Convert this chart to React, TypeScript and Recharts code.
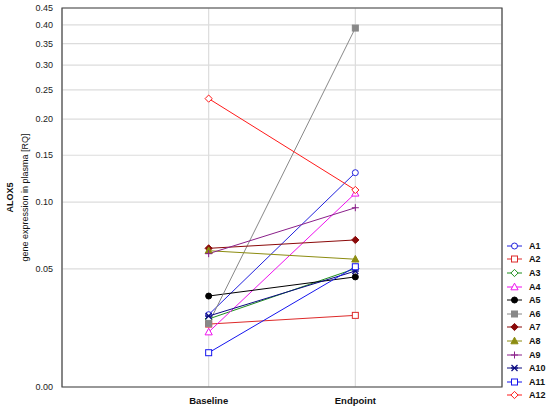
import React from 'react';
import { LineChart, Line, XAxis, YAxis, CartesianGrid, ReferenceArea } from 'recharts';

const categories = ['Baseline', 'Endpoint'];
const seriesNames = ['A1', 'A2', 'A3', 'A4', 'A5', 'A6', 'A7', 'A8', 'A9', 'A10', 'A11', 'A12'];
const baselineValues = [0.0261, 0.022, 0.0242, 0.0187, 0.035, 0.0223, 0.0632, 0.0616, 0.0596, 0.0255, 0.0109, 0.234];
const endpointValues = [0.1296, 0.0258, 0.0502, 0.1083, 0.0453, 0.391, 0.0691, 0.056, 0.0949, 0.0487, 0.0513, 0.1115];
const yTickValues = [0, 0.05, 0.1, 0.15, 0.2, 0.25, 0.3, 0.35, 0.4, 0.45];

const seriesColors = ['#2222dd', '#dd2a2a', '#1f8f1f', '#ee11ee', '#000000', '#888888', '#8b0a0a', '#8c8c10', '#8a208a', '#0a0a80', '#1515ee', '#ff1a1a'];
const seriesMarkers = ['circleOpen', 'squareOpen', 'diamondOpen', 'triangleOpen', 'circle', 'square', 'diamond', 'triangle', 'plus', 'star', 'squareOpen', 'diamondOpen'];

// the value axis is log(v + c), like the original plot
const OFFSET = 0.045;
const toAxis = (v: number) => Math.log(v + OFFSET);
const fromAxis = (t: number) => Math.exp(t) - OFFSET;

const FONT = '"Liberation Sans", Arial, sans-serif';

const data = categories.map((name, i) => {
  const row: Record<string, number | string> = { name, x: i + 1 };
  seriesNames.forEach((s, j) => {
    row[s] = toAxis(i === 0 ? baselineValues[j] : endpointValues[j]);
  });
  return row;
});

const Marker = ({ cx, cy, color, kind }: { cx: number; cy: number; color: string; kind: string }) => {
  const open = kind.endsWith('Open');
  const fill = open ? '#fff' : color;
  const base = kind.replace('Open', '');
  if (base === 'circle') return <circle cx={cx} cy={cy} r={3} fill={fill} stroke={color} strokeWidth={1} />;
  if (base === 'square') return <rect x={cx - 3} y={cy - 3} width={6} height={6} fill={fill} stroke={color} strokeWidth={1} />;
  if (base === 'diamond')
    return <polygon points={`${cx},${cy - 3.6} ${cx + 3.6},${cy} ${cx},${cy + 3.6} ${cx - 3.6},${cy}`} fill={fill} stroke={color} strokeWidth={1} />;
  if (base === 'triangle')
    return <polygon points={`${cx},${cy - 3.8} ${cx + 3.6},${cy + 2.8} ${cx - 3.6},${cy + 2.8}`} fill={fill} stroke={color} strokeWidth={1} />;
  if (base === 'plus')
    return (
      <g stroke={color} strokeWidth={1}>
        <line x1={cx - 3.5} y1={cy} x2={cx + 3.5} y2={cy} />
        <line x1={cx} y1={cy - 3.5} x2={cx} y2={cy + 3.5} />
      </g>
    );
  return (
    <g stroke={color} strokeWidth={1.3}>
      <line x1={cx - 3} y1={cy - 3} x2={cx + 3} y2={cy + 3} />
      <line x1={cx - 3} y1={cy + 3} x2={cx + 3} y2={cy - 3} />
      <line x1={cx - 3.5} y1={cy} x2={cx + 3.5} y2={cy} />
    </g>
  );
};

const SeriesLegend = () => (
  <div style={{ position: 'absolute', left: 503, top: 239, width: 47, fontFamily: FONT, fontSize: 9, fontWeight: 'bold', color: '#111' }}>
    {seriesNames.map((s, i) => (
      <div key={s} style={{ display: 'flex', alignItems: 'center', height: 13.6 }}>
        <svg width={22} height={10} style={{ display: 'block' }}>
          <line x1={4} y1={5} x2={19} y2={5} stroke={seriesColors[i]} strokeWidth={1} />
          <Marker cx={11.5} cy={5} color={seriesColors[i]} kind={seriesMarkers[i]} />
        </svg>
        <span style={{ marginLeft: 4 }}>{s}</span>
      </div>
    ))}
  </div>
);

const YLabel = (props: any) => {
  const vb = props.viewBox || { x: 0, y: 8, width: 62, height: 379 };
  const cy = vb.y + vb.height / 2;
  return (
    <g fontFamily={FONT} fontSize={9} fill="#111">
      <text x={13} y={cy} transform={`rotate(-90, 13, ${cy})`} textAnchor="middle" fontWeight="bold">
        ALOX5
      </text>
      <text x={27.5} y={cy} transform={`rotate(-90, 27.5, ${cy})`} textAnchor="middle">
        gene expression in plasma [RQ]
      </text>
    </g>
  );
};

const XTick = ({ x, y, payload }: any) => (
  <text x={x} y={y} dy={14.5} textAnchor="middle" fontFamily={FONT} fontSize={9.5} fontWeight="bold" fill="#111">
    {categories[payload.value - 1]}
  </text>
);

const YTick = ({ x, y, payload }: any) => (
  <text x={x} y={y} dy={3.2} textAnchor="end" fontFamily={FONT} fontSize={9} fill="#222">
    {fromAxis(payload.value).toFixed(2)}
  </text>
);

export default function App() {
  return (
    <div style={{ position: 'absolute', left: 0, top: 0, width: 550, height: 409, background: '#fff' }}>
      <LineChart width={550} height={409} data={data} margin={{ top: 8, right: 48, bottom: 0, left: 0 }}>
        <CartesianGrid stroke="#dcdcdc" strokeWidth={1.2} />
        <XAxis
          dataKey="x"
          type="number"
          domain={[0, 3]}
          ticks={[1, 2]}
          height={22}
          tickSize={0}
          axisLine={false}
          interval={0}
          tick={<XTick />}
        />
        <YAxis
          type="number"
          domain={[toAxis(0), toAxis(0.45)]}
          ticks={yTickValues.map(toAxis)}
          width={62}
          tickSize={0}
          tickMargin={9}
          axisLine={false}
          interval={0}
          tick={<YTick />}
          label={{ content: YLabel }}
          allowDataOverflow
        />
        <ReferenceArea x1={0} x2={3} y1={toAxis(0)} y2={toAxis(0.45)} fill="none" stroke="#444" strokeWidth={1.2} />
        {seriesNames.map((s, i) => (
          <Line
            key={s}
            dataKey={s}
            type="linear"
            stroke={seriesColors[i]}
            strokeWidth={1}
            isAnimationActive={false}
            dot={(p: any) => <Marker key={`${s}-${p.index}`} cx={p.cx} cy={p.cy} color={seriesColors[i]} kind={seriesMarkers[i]} />}
            activeDot={false}
          />
        ))}
      </LineChart>
      <SeriesLegend />
    </div>
  );
}
